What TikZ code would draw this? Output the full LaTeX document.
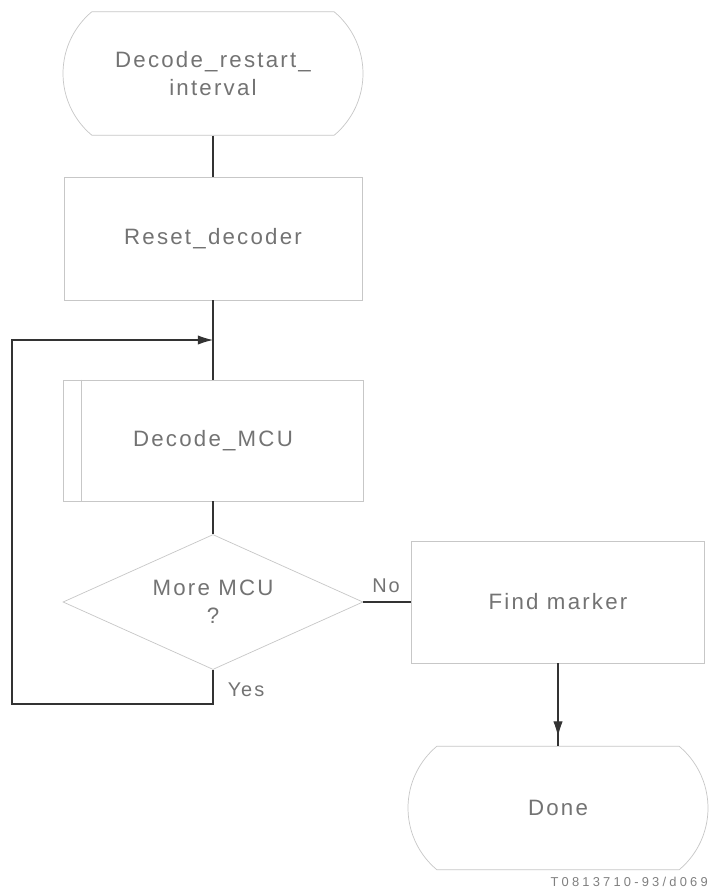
\documentclass[tikz,border=0pt]{standalone}
\usepackage{fontspec}
\setmainfont{Liberation Sans}[LetterSpace=10]
\usetikzlibrary{shapes.geometric,shapes.misc,arrows.meta,calc}
\begin{document}
\begin{tikzpicture}[x=0.03cm,y=-0.03cm,
  shp/.style={draw=black!22, line width=0.6pt, text=black!55, font=\fontsize{19}{24}\selectfont, align=center, inner sep=0pt},
  term/.style={shp, rounded rectangle, rounded rectangle arc length=100, minimum width=9cm, minimum height=3.7cm},
  proc/.style={shp, rectangle, minimum width=8.94cm, minimum height=3.69cm},
  dec/.style={shp, diamond, aspect=2.22, minimum width=9cm, minimum height=4.05cm},
  conn/.style={draw=black!80, line width=0.9pt},
  arr/.style={conn, -{Latex[length=13pt,width=8pt]}},
  lbl/.style={text=black!55, font=\fontsize{17}{20}\selectfont, inner sep=0pt}]
\useasboundingbox (0,0) rectangle (709,894);
\fill[white] (0,0) rectangle (709,894);
\node[term] (start) at (213,73.5) {Decode\_restart\_\\interval};
\node[proc] (reset) at (213,238.5) {Reset\_decoder};
\node[proc, minimum width=9cm, minimum height=3.63cm] (mcu) at (213,440.5) {Decode\_MCU};
\draw[draw=black!22, line width=0.6pt] ($(mcu.north west)+(19,0)$) -- ($(mcu.south west)+(19,0)$);
\node[dec] (dec) at (213,602) {More MCU\\?};
\node[proc, minimum width=8.79cm, minimum height=3.66cm] (fm) at (558,602) {Find marker};
\node[term] (done) at (558,808) {Done};
\draw[conn] (start.south) -- (reset.north);
\draw[conn] (reset.south) -- (mcu.north);
\coordinate (loopin) at ($(reset.south)!0.5!(mcu.north)$);
\coordinate (yl) at (12,704);
\draw[conn] (mcu.south) -- (dec.north);
\draw[arr] (dec.south) |- (yl) |- (loopin);
\draw[conn] (dec.east) -- (fm.west);
\node[lbl] (no) at (386,586) {No};
\node[lbl] (yes) at (246,690) {Yes};
\draw[conn] (fm.south) -- (done.north);
\draw[arr, shorten >=8pt] (fm.south) -- (done.north);
\node[anchor=east, text=black!50, inner sep=0pt, font=\fontsize{11}{13}\selectfont\addfontfeatures{LetterSpace=25}] (tag) at (708,882) {T0813710-93/d069};
\end{tikzpicture}
\end{document}
